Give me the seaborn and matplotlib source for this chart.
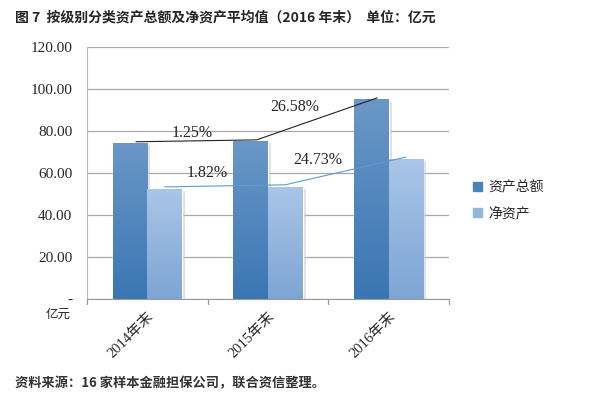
import numpy as np
import pandas as pd
import matplotlib
matplotlib.use('Agg')
import matplotlib.pyplot as plt
import seaborn as sns
from matplotlib.colors import LinearSegmentedColormap
from matplotlib.patches import Patch

# data
years = ['2014年末', '2015年末', '2016年末']
total_assets = [74.4, 75.3, 95.3]
net_assets = [52.4, 53.4, 66.6]
series = ['资产总额', '净资产']
total_growth = ['1.25%', '26.58%']
net_growth = ['1.82%', '24.73%']
yticks = [0, 20, 40, 60, 80, 100, 120]

df = pd.DataFrame({
    'year': years * 2,
    'value': total_assets + net_assets,
    'kind': [series[0]] * 3 + [series[1]] * 3,
})

sns.set_style('white')
plt.rcParams['font.family'] = ['Liberation Serif', 'Noto Sans CJK SC']

fig = plt.figure(figsize=(6, 3.99), dpi=100)
ax = fig.add_axes([0.145, 0.2506, 0.603, 0.6314])

colors = ['#4A82BE', '#93B6DE']
sns.barplot(data=df, x='year', y='value', hue='kind', palette=colors,
            width=0.575, ax=ax, legend=False, saturation=1)

# gradient fill on bars
grads = [('#3A76B3', '#6A97C7'), ('#7EA5D5', '#A9C6E7')]
for i, cont in enumerate(ax.containers):
    cmap = LinearSegmentedColormap.from_list('g%d' % i, list(grads[i]))
    for p in cont.patches:
        x0, w, h = p.get_x(), p.get_width(), p.get_height()
        # soft shadow at right
        ax.add_patch(plt.Rectangle((x0 + w, 0), 0.025, h * 0.985,
                                   color='#C8C8C8', alpha=0.6, lw=0, zorder=1.5))
        im = ax.imshow(np.linspace(0, 1, 100).reshape(-1, 1), cmap=cmap,
                       extent=[x0, x0 + w, 0, h], origin='lower',
                       aspect='auto', zorder=2)
        im.set_clip_path(p)
        p.set_zorder(2)

ax.set_xlim(-0.5, 2.5)
ax.set_ylim(0, 120)
ax.set_yticks(yticks)
ax.set_yticklabels(['-'] + ['%.2f' % v for v in yticks[1:]], fontsize=11)
ax.yaxis.grid(True, color='#A8A8A8', lw=0.9)
ax.set_axisbelow(True)
ax.set_xlabel('')
ax.set_ylabel('')

for s in ['top', 'right']:
    ax.spines[s].set_visible(False)
ax.spines['left'].set_color('#BBBBBB')
ax.spines['bottom'].set_color('#999999')
ax.tick_params(axis='y', length=3.6, width=0.9, color='#A8A8A8', pad=7)
ax.set_xticks([0, 1, 2])
ax.set_xticklabels(years, rotation=45, ha='right', rotation_mode='anchor',
                   fontsize=10.5)
ax.tick_params(axis='x', length=0, pad=8)
for xb in [-0.5, 0.5, 1.5, 2.5]:
    ax.plot([xb, xb], [0, -2.2], color='#999999', lw=0.9, clip_on=False)

# growth lines
off = 0.575 / 4
xs = np.arange(3)
ax.plot(xs - off + 0.05, np.array(total_assets) + 0.5, color='#222222', lw=0.8, zorder=3)
ax.plot(xs + off, np.array(net_assets) + 1.0, color='#5B9BD5', lw=0.8, zorder=3)
ax.text(0.37, 79.0, total_growth[0], fontsize=11.5, ha='center', va='center', zorder=4)
ax.text(1.22, 91.4, total_growth[1], fontsize=11.5, ha='center', va='center', zorder=4)
ax.text(0.50, 60.0, net_growth[0], fontsize=11.5, ha='center', va='center', zorder=4)
ax.text(1.41, 66.2, net_growth[1], fontsize=11.5, ha='center', va='center', zorder=4)

# unit label under zero
ax.text(-0.08, -4.0, '亿元', transform=ax.get_yaxis_transform(), fontsize=9,
        ha='center', va='top', family=['Noto Sans CJK SC'])

# legend
handles = [Patch(color=colors[0]), Patch(color=colors[1])]
fig.legend(handles, series, loc='upper left', bbox_to_anchor=(0.768, 0.58),
           frameon=False, handlelength=0.6, handleheight=0.6,
           labelspacing=0.9, handletextpad=0.5,
           prop={'family': ['Noto Sans CJK SC'], 'size': 10})

fig.text(0.025, 0.957, '图 7  按级别分类资产总额及净资产平均值（2016 年末）  单位：亿元',
         fontsize=10, fontweight='bold', va='center', family=['Noto Sans CJK SC'])
fig.text(0.025, 0.04, '资料来源：16 家样本金融担保公司，联合资信整理。',
         fontsize=9.5, fontweight='bold', va='center', family=['Noto Sans CJK SC'],
         color='#333333')

fig.savefig('out.png', dpi=100)
